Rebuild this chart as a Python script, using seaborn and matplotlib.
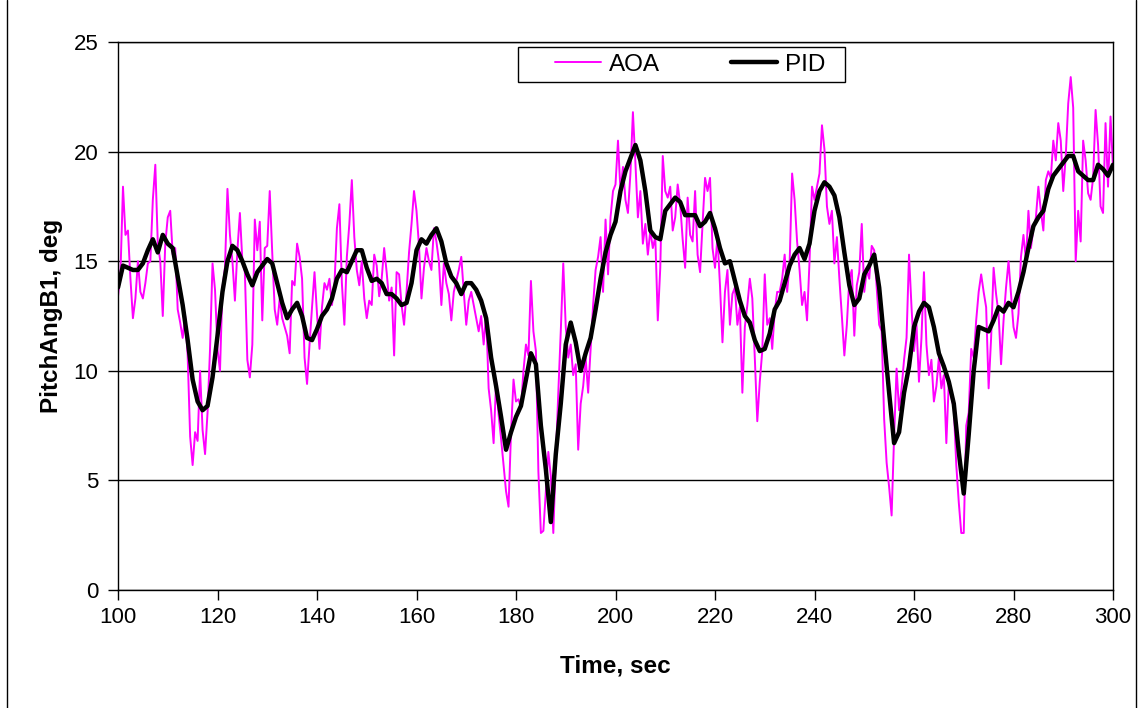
import numpy as np
import pandas as pd
import matplotlib
matplotlib.use("Agg")
import matplotlib.pyplot as plt
import seaborn as sns
from matplotlib.lines import Line2D
from matplotlib.patches import Rectangle

sns.set_style("white")
plt.rcParams['font.family'] = ['Liberation Sans', 'DejaVu Sans']
plt.rcParams['text.color'] = 'black'
plt.rcParams['axes.labelcolor'] = 'black'
plt.rcParams['xtick.color'] = 'black'
plt.rcParams['ytick.color'] = 'black'

# ---------------- data ----------------
x_ticks = [100, 120, 140, 160, 180, 200, 220, 240, 260, 280, 300]
y_ticks = [0, 5, 10, 15, 20, 25]
series_names = ["AOA", "PID"]

pid_start, pid_step = 100.0, 1.0
pid = [
    13.8, 14.8, 14.7, 14.6, 14.6, 14.9, 15.5, 16.0, 15.4, 16.2,
    15.8, 15.6, 14.3, 13.0, 11.4, 9.6, 8.6, 8.2, 8.4, 9.7,
    11.6, 13.6, 15.0, 15.7, 15.5, 15.0, 14.4, 13.9, 14.5, 14.8,
    15.1, 14.9, 14.0, 13.1, 12.4, 12.8, 13.1, 12.5, 11.5, 11.4,
    11.9, 12.5, 12.8, 13.3, 14.2, 14.6, 14.5, 15.0, 15.5, 15.5,
    14.7, 14.1, 14.2, 14.0, 13.5, 13.5, 13.3, 13.0, 13.1, 14.0,
    15.5, 16.0, 15.8, 16.2, 16.5, 15.9, 14.9, 14.3, 14.0, 13.5,
    14.0, 14.0, 13.7, 13.2, 12.4, 10.6, 9.3, 7.9, 6.4, 7.2,
    7.9, 8.4, 9.6, 10.8, 10.3, 7.5, 5.5, 3.1, 6.2, 8.5,
    11.2, 12.2, 11.3, 10.0, 10.8, 11.5, 12.8, 14.2, 15.4, 16.2,
    16.8, 18.2, 19.1, 19.7, 20.3, 19.6, 18.2, 16.4, 16.1, 16.0,
    17.3, 17.6, 17.9, 17.7, 17.1, 17.1, 17.1, 16.6, 16.8, 17.2,
    16.5, 15.6, 14.9, 15.0, 14.1, 13.2, 12.5, 12.2, 11.4, 10.9,
    11.0, 11.7, 12.8, 13.2, 14.0, 14.8, 15.3, 15.6, 15.1, 15.8,
    17.3, 18.2, 18.6, 18.4, 18.0, 17.0, 15.4, 13.9, 13.0, 13.3,
    14.4, 14.8, 15.3, 13.8, 11.4, 9.0, 6.7, 7.2, 9.0, 10.2,
    12.0, 12.7, 13.1, 12.9, 12.0, 10.8, 10.2, 9.5, 8.5, 6.3,
    4.4, 7.1, 10.0, 12.0, 11.9, 11.8, 12.3, 12.9, 12.7, 13.1,
    12.9, 13.6, 14.5, 15.6, 16.6, 17.0, 17.3, 18.3, 18.9, 19.2,
    19.5, 19.8, 19.8, 19.1, 18.9, 18.7, 18.7, 19.4, 19.2, 18.9,
    19.4,
]

aoa_start, aoa_step = 100.0, 0.5
aoa = [
    # 100 - 124.5
    13.4, 14.5, 18.4, 16.2, 16.4, 14.2, 12.4, 13.3, 15.0, 13.6,
    13.3, 14.0, 14.9, 15.0, 17.8, 19.4, 15.8, 15.0, 12.5, 15.8,
    17.0, 17.3, 15.3, 15.6, 12.8, 12.2, 11.5, 12.5, 10.7, 7.0,
    5.7, 7.2, 6.8, 10.0, 7.3, 6.2, 8.1, 11.0, 14.9, 13.7,
    11.0, 10.0, 13.8, 14.7, 18.3, 16.2, 15.0, 13.2, 15.5, 17.2,
    # 125 - 149.5
    15.0, 14.5, 10.5, 9.7, 11.2, 16.9, 15.5, 16.8, 12.3, 15.6,
    15.7, 18.2, 15.4, 12.8, 12.1, 13.3, 12.4, 12.0, 11.6, 10.8,
    14.1, 13.9, 15.8, 15.2, 14.2, 10.6, 9.4, 11.2, 12.9, 14.5,
    12.6, 11.0, 12.9, 14.0, 13.7, 14.2, 13.0, 13.9, 16.5, 17.6,
    14.0, 12.1, 15.2, 16.7, 18.7, 16.1, 14.6, 13.9, 15.0, 13.3,
    # 150 - 174.5
    12.4, 13.2, 13.0, 15.3, 14.8, 13.4, 14.2, 15.6, 14.5, 13.2,
    13.8, 10.7, 14.5, 14.4, 13.0, 12.1, 13.6, 15.4, 16.7, 18.2,
    17.3, 15.7, 13.3, 14.7, 15.6, 15.0, 14.6, 16.5, 15.9, 15.0,
    13.0, 14.9, 14.0, 13.5, 12.3, 13.6, 14.1, 14.6, 15.2, 13.6,
    12.1, 13.2, 13.6, 13.0, 12.4, 11.8, 12.5, 11.2, 12.6, 9.2,
    # 175 - 199.5
    8.2, 6.7, 9.5, 8.0, 6.9, 5.7, 4.5, 3.8, 7.2, 9.6,
    8.6, 8.7, 8.3, 10.0, 11.2, 10.7, 14.1, 11.8, 10.9, 5.4,
    2.6, 2.7, 4.5, 6.3, 5.2, 2.6, 6.0, 9.0, 11.8, 14.9,
    12.0, 10.6, 11.2, 9.8, 10.3, 6.4, 8.5, 9.3, 10.6, 9.0,
    11.0, 13.0, 14.6, 15.2, 16.1, 13.6, 16.9, 14.4, 17.0, 18.2,
    # 200 - 224.5
    18.5, 20.5, 18.2, 19.3, 17.8, 17.2, 19.0, 21.8, 19.5, 17.0,
    18.2, 15.8, 16.7, 15.3, 16.4, 15.6, 16.1, 12.3, 14.7, 19.8,
    18.2, 17.9, 18.4, 16.4, 17.0, 18.5, 17.6, 16.0, 14.7, 17.9,
    16.2, 15.9, 18.2, 15.3, 14.5, 16.7, 18.8, 18.2, 18.8, 15.6,
    14.7, 16.1, 13.9, 11.3, 13.6, 14.6, 12.1, 13.5, 13.8, 12.1,
    # 225 - 249.5
    12.9, 9.0, 12.0, 13.0, 14.2, 13.3, 10.6, 7.7, 9.5, 10.9,
    14.4, 12.1, 12.4, 11.0, 12.7, 13.6, 13.6, 14.2, 15.3, 13.6,
    14.9, 19.0, 17.8, 15.9, 14.6, 13.0, 13.6, 12.3, 15.0, 18.4,
    17.8, 18.4, 19.0, 21.2, 20.1, 17.5, 16.7, 17.3, 14.9, 16.1,
    14.2, 12.5, 10.7, 12.1, 14.2, 14.6, 11.6, 13.9, 14.5, 16.7,
    # 250 - 274.5
    13.6, 14.6, 14.2, 15.7, 15.5, 13.8, 12.1, 11.8, 7.8, 5.8,
    4.7, 3.4, 7.0, 10.1, 8.2, 9.2, 10.5, 11.5, 15.3, 12.9,
    10.9, 12.1, 9.5, 11.5, 14.5, 11.2, 9.8, 10.5, 8.6, 9.3,
    10.6, 9.2, 9.8, 6.7, 9.5, 8.8, 8.3, 5.7, 4.0, 2.6,
    2.6, 7.5, 8.1, 11.0, 10.6, 12.3, 13.6, 14.4, 13.6, 12.9,
    # 275 - 300
    9.2, 11.5, 14.7, 13.5, 12.6, 10.3, 12.3, 13.8, 15.0, 13.5,
    12.0, 11.5, 12.6, 15.2, 16.2, 15.0, 17.3, 15.6, 16.5, 17.0,
    18.4, 17.3, 16.4, 18.7, 19.1, 18.8, 20.5, 19.6, 21.3, 20.5,
    18.2, 19.8, 22.2, 23.4, 22.0, 15.0, 17.3, 15.9, 20.5, 19.6,
    18.1, 17.8, 18.8, 21.9, 20.3, 17.5, 17.2, 21.3, 18.4, 21.6,
    19.3,
]

aoa_time = aoa_start + aoa_step * np.arange(len(aoa))
pid_time = pid_start + pid_step * np.arange(len(pid))

df_aoa = pd.DataFrame({"Time": aoa_time, "Value": aoa})
df_pid = pd.DataFrame({"Time": pid_time, "Value": pid})

# ---------------- figure ----------------
W, H = 1138, 708
fig = plt.figure(figsize=(W / 100, H / 100), dpi=100)
ax = fig.add_axes([118 / W, 1 - 590 / H, (1113 - 118) / W, (590 - 42) / H])

sns.lineplot(data=df_aoa, x="Time", y="Value", ax=ax, color="#FF00FF",
             lw=1.4, label=series_names[0], estimator=None, sort=False)
sns.lineplot(data=df_pid, x="Time", y="Value", ax=ax, color="black",
             lw=3.2, label=series_names[1], estimator=None, sort=False)

ax.set_xlim(x_ticks[0], x_ticks[-1])
ax.set_ylim(y_ticks[0], y_ticks[-1])
ax.set_xticks(x_ticks)
ax.set_yticks(y_ticks)
ax.yaxis.grid(True, color="black", lw=1)
ax.xaxis.grid(False)
ax.set_axisbelow(True)
ax.tick_params(axis="both", direction="out", length=7, width=1, color="black",
               labelsize=16, labelcolor="black", left=True, bottom=True)
ax.tick_params(axis="y", pad=7)
ax.tick_params(axis="x", pad=5)
for s in ax.spines.values():
    s.set_color("black")
    s.set_linewidth(1)

ax.set_xlabel("Time, sec", fontsize=17.5, fontweight="bold", labelpad=19,
              color="black")
ax.set_ylabel("PitchAngB1, deg", fontsize=17.5, fontweight="bold", labelpad=8,
              color="black")

# legend: entries without frame, plus an Excel-like box drawn around them
def ax_x(px):
    return (px - 118) / (1113 - 118)

def ax_y(py):
    return (590 - py) / (590 - 42)

leg = ax.legend(loc="center left", bbox_to_anchor=(ax_x(555), ax_y(64.5)),
                ncol=2, frameon=False, fontsize=17.5, handlelength=1.9,
                columnspacing=2.95, borderpad=0, handletextpad=0.3,
                borderaxespad=0)
box = Rectangle((ax_x(518), ax_y(82)), ax_x(845) - ax_x(518),
                ax_y(47) - ax_y(82), transform=ax.transAxes,
                facecolor="white", edgecolor="black", lw=1, zorder=4)
ax.add_patch(box)
leg.set_zorder(5)

# outer chart border (left / right)
for xp in (7 / W, 1136 / W):
    fig.add_artist(Line2D([xp, xp], [0, 1], transform=fig.transFigure,
                          color="black", lw=1))

fig.savefig("out.png", dpi=100)
